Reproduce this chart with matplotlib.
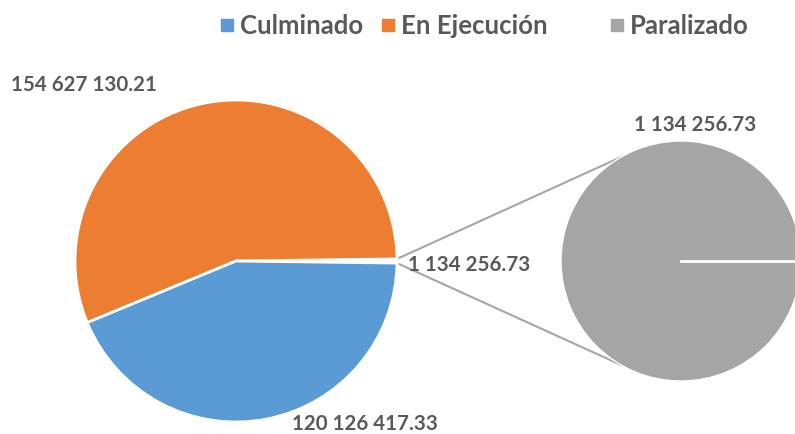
import numpy as np
import matplotlib.pyplot as plt

categories = ['Culminado', 'En Ejecución', 'Paralizado']
values = [120126417.33, 154627130.21, 1134256.73]
colors = ['#5B9BD5', '#ED7D31', '#A5A5A5']
text_color = '#595959'


def fmt(v):
    s = f'{v:,.2f}'
    return s.replace(',', ' ')


fig = plt.figure(figsize=(7.95, 4.35), dpi=100)
ax = fig.add_axes([0, 0, 1, 1])

# main pie: "other" slice centred at 3 o'clock, then orange, then blue
main_vals = [values[2], values[1], values[0]]
main_cols = ['#F2F2F2', colors[1], colors[0]]
total = sum(main_vals)
other_deg = values[2] / total * 360
c1 = (236, 173)
r1 = 161
ax.pie(main_vals, colors=main_cols, startangle=-other_deg / 2, counterclock=True,
       center=c1, radius=r1, frame=True,
       wedgeprops=dict(edgecolor='white', linewidth=2))

# secondary pie
c2 = (681, 173)
r2 = 120
ax.pie([values[2]], colors=[colors[2]], startangle=0, center=c2, radius=r2,
       frame=True, wedgeprops=dict(edgecolor='white', linewidth=1))
ax.plot([c2[0], c2[0] + r2], [c2[1], c2[1]], color='white', lw=2, zorder=5)

# connector lines
a = np.deg2rad(other_deg / 2)
for s, e in [(a, np.deg2rad(120)), (-a, np.deg2rad(240))]:
    p0 = (c1[0] + r1 * np.cos(s), c1[1] + r1 * np.sin(s))
    p1 = (c2[0] + r2 * np.cos(e), c2[1] + r2 * np.sin(e))
    ax.plot([p0[0], p1[0]], [p0[1], p1[1]], color='#A6A6A6', lw=1.5, zorder=0)

lab = dict(color=text_color, fontsize=14.8, fontweight='bold', family='Lato')
ax.text(84, 435 - 85, fmt(values[1]), ha='center', va='center', **lab)
ax.text(365, 435 - 424, fmt(values[0]), ha='center', va='center', **lab)
ax.text(408, 435 - 265, fmt(values[2]), ha='left', va='center', **lab)
ax.text(695, 435 - 125, fmt(values[2]), ha='center', va='center', **lab)

# legend
leg_x = [222, 383, 612]
for x, name, col in zip(leg_x, categories, colors):
    ax.scatter([x + 5], [435 - 26], marker='s', s=80, color=col)
    ax.text(x + 18, 435 - 26, name, ha='left', va='center', color=text_color,
            fontsize=18.5, fontweight='bold', family='Lato')

ax.set_xlim(0, 795)
ax.set_ylim(0, 435)
ax.set_aspect('equal')
ax.axis('off')

fig.savefig('out.png', dpi=100)
